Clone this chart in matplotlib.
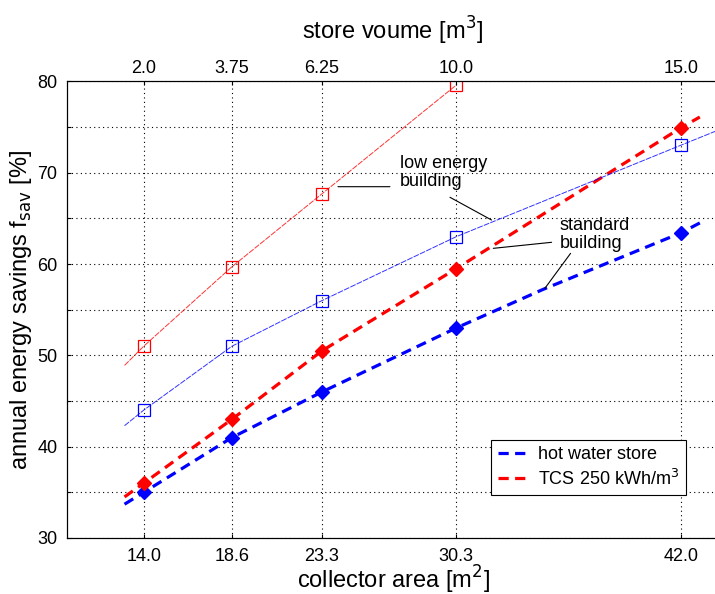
import matplotlib
matplotlib.use("Agg")
import matplotlib.pyplot as plt
import numpy as np

plt.rcParams['font.family'] = ['Liberation Sans', 'DejaVu Sans']

# ---- Data ----
collector_area = [14.0, 18.6, 23.3, 30.3, 42.0]
store_volume = ['2.0', '3.75', '6.25', '10.0', '15.0']

# simulated points (markers)
hw_std = [35.0, 41.0, 46.0, 53.0, 63.4]
tcs_std = [36.0, 43.0, 50.5, 59.5, 74.9]
hw_low = [44.0, 51.0, 56.0, 63.0, 73.0]
tcs_low = [51.0, 59.7, 67.7, 79.6]

# fitted curves
hw_std_cx = [13.0, 14.0, 18.6, 23.3, 30.3, 34.8, 42.0, 43.0]
hw_std_cy = [33.7, 35.0, 41.0, 46.0, 53.0, 57.2, 63.4, 64.5]
tcs_std_cx = [13.0, 14.0, 18.6, 23.3, 30.3, 42.0, 43.0]
tcs_std_cy = [34.5, 36.0, 43.0, 50.5, 59.5, 74.9, 76.1]
hw_low_cx = [13.0, 14.0, 18.6, 23.3, 30.3, 42.0, 44.0]
hw_low_cy = [42.3, 44.0, 51.0, 56.0, 63.0, 73.0, 74.7]
tcs_low_cx = [13.0, 14.0, 18.6, 23.3, 30.3]
tcs_low_cy = [48.9, 51.0, 59.7, 67.7, 79.6]

BLUE = (0, 0, 1)
RED = (1, 0, 0)

fig = plt.figure(figsize=(7.15, 5.94), dpi=100)
ax = fig.add_axes([67 / 715, 1 - 538 / 594, 652 / 715, 456.6 / 594])

# thick dashed: standard building
ax.plot(hw_std_cx, hw_std_cy, color=BLUE, lw=2.3, dashes=(3.2, 2.0), label='hot water store')
ax.plot(tcs_std_cx, tcs_std_cy, color=RED, lw=2.3, dashes=(3.2, 2.0), label='TCS 250 kWh/m$^3$')
ax.plot(collector_area, hw_std, 'D', color=BLUE, ms=7.5, ls='none')
ax.plot(collector_area, tcs_std, 'D', color=RED, ms=7.5, ls='none')

# thin: low energy building
ax.plot(hw_low_cx, hw_low_cy, color=BLUE, lw=0.7, dashes=(6, 1.2), alpha=0.8)
ax.plot(tcs_low_cx, tcs_low_cy, color=RED, lw=0.7, dashes=(6, 1.2), alpha=0.8)
ax.plot(collector_area, hw_low, 's', mfc='none', mec=BLUE, ms=8, mew=0.9, ls='none')
ax.plot(collector_area[:4], tcs_low, 's', mfc='none', mec=RED, ms=8, mew=0.9, ls='none')

ax.set_xlim(10, 44)
ax.set_ylim(30, 80)
ax.set_xticks(collector_area)
ax.set_xticklabels([f'{v:.1f}' for v in collector_area])
yt = np.arange(30, 81, 5)
ax.set_yticks(yt)
ax.set_yticklabels([str(v) if v % 10 == 0 else '' for v in yt])
ax.tick_params(direction='in', length=3, labelsize=13, pad=7)
ax.grid(True, color='black', ls=(0, (1, 3)), lw=0.8)
ax.set_xlabel('collector area [m$^2$]', fontsize=17, labelpad=-1)
ax.set_ylabel('annual energy savings f$_{\\rm sav}$ [%]', fontsize=17, labelpad=2)

# top axis: store volume
ax2 = ax.twiny()
ax2.set_xlim(ax.get_xlim())
ax2.set_xticks(collector_area)
ax2.set_xticklabels(store_volume)
ax2.tick_params(direction='in', length=3, labelsize=13, pad=3)
ax2.set_xlabel('store voume [m$^3$]', fontsize=17, labelpad=15)

# annotations
ax.text(27.36, 70.0, 'low energy\nbuilding', fontsize=13, ha='left', va='center', linespacing=1.1)
ax.text(35.7, 63.2, 'standard\nbuilding', fontsize=13, ha='left', va='center', linespacing=1.1)
lead = dict(arrowstyle='-', color='black', lw=0.8, shrinkA=0, shrinkB=0)
ax.annotate('', xy=(24.13, 68.47), xytext=(26.84, 68.47), arrowprops=lead)
ax.annotate('', xy=(32.14, 64.82), xytext=(29.97, 67.31), arrowprops=lead)
ax.annotate('', xy=(32.23, 61.72), xytext=(35.27, 62.38), arrowprops=lead)
ax.annotate('', xy=(34.92, 57.34), xytext=(36.26, 61.17), arrowprops=lead)

leg = ax.legend(loc='lower left', bbox_to_anchor=(0.651, 0.094), borderaxespad=0,
                fontsize=13, fancybox=False, framealpha=1, edgecolor='black',
                handlelength=1.55, handletextpad=0.7, borderpad=0.35, labelspacing=0.3)
leg.get_frame().set_linewidth(0.8)

fig.savefig('out.png', dpi=100)
